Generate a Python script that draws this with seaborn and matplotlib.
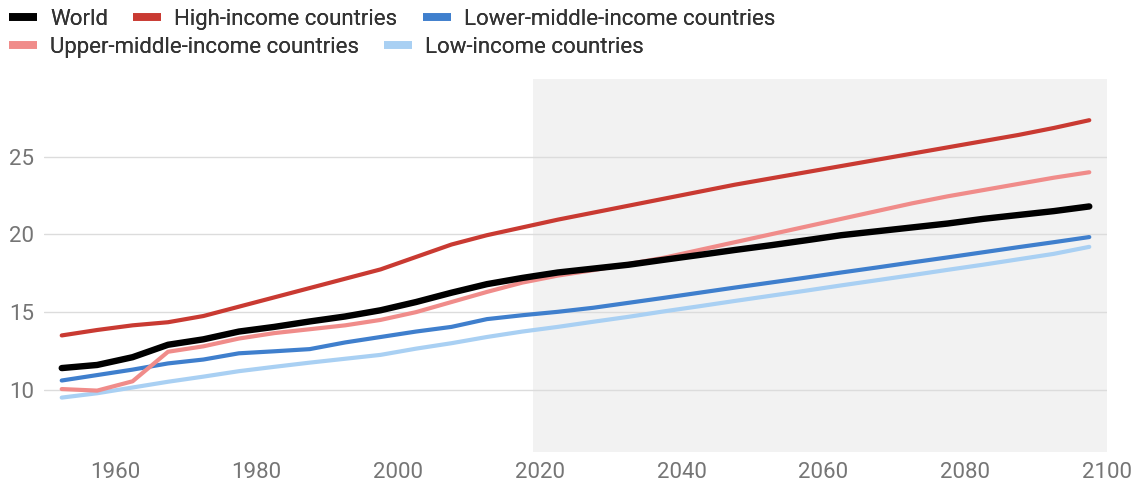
import matplotlib
matplotlib.use("Agg")
import matplotlib.pyplot as plt
from matplotlib.lines import Line2D
import seaborn as sns
import pandas as pd

years = [1952.5, 1957.5, 1962.5, 1967.5, 1972.5, 1977.5, 1982.5, 1987.5, 1992.5, 1997.5,
         2002.5, 2007.5, 2012.5, 2017.5, 2022.5, 2027.5, 2032.5, 2037.5, 2042.5, 2047.5,
         2052.5, 2057.5, 2062.5, 2067.5, 2072.5, 2077.5, 2082.5, 2087.5, 2092.5, 2097.5]

world = [11.4, 11.6, 12.1, 12.9, 13.25, 13.75, 14.05, 14.4, 14.72, 15.12,
         15.65, 16.25, 16.8, 17.2, 17.55, 17.8, 18.05, 18.37, 18.68, 19.0,
         19.3, 19.62, 19.95, 20.2, 20.45, 20.7, 21.0, 21.25, 21.5, 21.8]
high = [13.5, 13.85, 14.15, 14.35, 14.75, 15.35, 15.95, 16.55, 17.15, 17.75,
        18.55, 19.35, 19.95, 20.45, 20.95, 21.4, 21.85, 22.3, 22.75, 23.2,
        23.6, 24.0, 24.4, 24.8, 25.2, 25.6, 26.0, 26.4, 26.85, 27.35]
upper_middle = [10.05, 9.95, 10.55, 12.45, 12.8, 13.3, 13.65, 13.9, 14.15, 14.5,
                15.0, 15.65, 16.3, 16.9, 17.35, 17.7, 18.1, 18.5, 19.0, 19.5,
                20.0, 20.5, 21.0, 21.5, 22.0, 22.45, 22.85, 23.25, 23.65, 24.0]
lower_middle = [10.6, 10.95, 11.3, 11.7, 11.95, 12.35, 12.48, 12.62, 13.05, 13.4,
                13.75, 14.05, 14.55, 14.8, 15.02, 15.28, 15.6, 15.92, 16.25, 16.58,
                16.9, 17.22, 17.55, 17.87, 18.2, 18.52, 18.85, 19.18, 19.5, 19.83]
low = [9.5, 9.78, 10.15, 10.52, 10.85, 11.2, 11.48, 11.75, 12.0, 12.25,
       12.65, 13.0, 13.4, 13.75, 14.05, 14.38, 14.7, 15.05, 15.38, 15.72,
       16.05, 16.38, 16.72, 17.05, 17.38, 17.72, 18.05, 18.4, 18.75, 19.2]

series_names = ["World", "High-income countries", "Lower-middle-income countries",
                "Upper-middle-income countries", "Low-income countries"]
series_values = [world, high, lower_middle, upper_middle, low]
colors = {"World": "#000000", "High-income countries": "#c93a32",
          "Lower-middle-income countries": "#3f7fcd",
          "Upper-middle-income countries": "#f08c8a",
          "Low-income countries": "#a9d0f3"}
widths = {"World": 4.6, "High-income countries": 3.0,
          "Lower-middle-income countries": 3.0,
          "Upper-middle-income countries": 3.0, "Low-income countries": 3.0}
draw_order = ["Low-income countries", "Lower-middle-income countries",
              "Upper-middle-income countries", "High-income countries", "World"]

xticks = [1960, 1980, 2000, 2020, 2040, 2060, 2080, 2100]
yticks = [10, 15, 20, 25]
projection_start = 2019

df = pd.concat([pd.DataFrame({"year": years, "value": v, "series": n})
                for n, v in zip(series_names, series_values)], ignore_index=True)

sns.set_theme(style="white")
plt.rcParams["font.family"] = ["Roboto", "DejaVu Sans"]

fig = plt.figure(figsize=(11.36, 4.83), dpi=100)
ax = fig.add_axes([44 / 1136, 1 - 452 / 483, (1107 - 44) / 1136, (452 - 79) / 483])

ax.axvspan(projection_start, 2100, color="#f2f2f2", zorder=0, lw=0)
for yt in yticks:
    ax.axhline(yt, color="#dcdcdc", lw=1.0, zorder=1)

for name in draw_order:
    sub = df[df["series"] == name]
    sns.lineplot(data=sub, x="year", y="value", color=colors[name],
                 linewidth=widths[name], ax=ax, zorder=3,
                 solid_capstyle="round", solid_joinstyle="round")

ax.set_xlim(1950, 2100)
ax.set_ylim(6, 30)
ax.set_xticks(xticks)
ax.set_yticks(yticks)
ax.set_xlabel("")
ax.set_ylabel("")
for s in ax.spines.values():
    s.set_visible(False)
ax.tick_params(axis="both", length=0, labelsize=16, colors="#757575")
ax.tick_params(axis="x", pad=7)
ax.tick_params(axis="y", pad=7)
ax.grid(False)

# legend rows (flow layout)
rows = [["World", "High-income countries", "Lower-middle-income countries"],
        ["Upper-middle-income countries", "Low-income countries"]]
row_y = [1 - 9 / 483, 1 - 37 / 483]
for names, yy in zip(rows, row_y):
    handles = [Line2D([0], [0], color=colors[n], lw=5.5, solid_capstyle="butt") for n in names]
    leg = fig.legend(handles, names, loc="upper left", bbox_to_anchor=(9 / 1136, yy),
                     ncol=len(names), frameon=False, fontsize=16, borderpad=0,
                     borderaxespad=0, handlelength=1.26, handletextpad=0.59,
                     columnspacing=1.13, labelcolor="#333333")
    fig.add_artist(leg)

fig.savefig("out.png", dpi=100)
